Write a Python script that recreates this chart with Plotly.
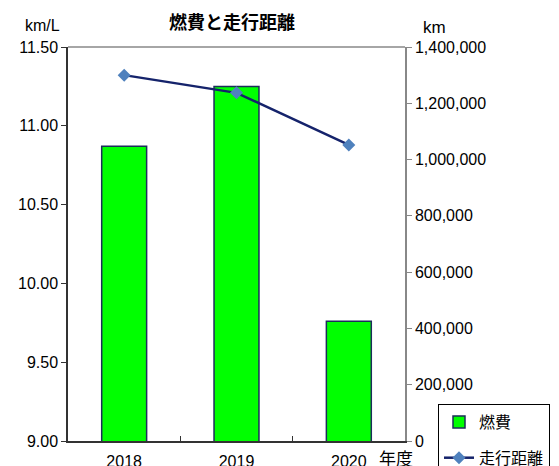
import plotly.graph_objects as go

years = ["2018", "2019", "2020"]
fuel_economy = [10.87, 11.25, 9.76]
distance_km = [1300000, 1237000, 1052000]

JP = "Noto Sans CJK JP"
NUM = "Liberation Sans, Arial"

fig = go.Figure()
fig.add_trace(go.Bar(
    x=years, y=fuel_economy, name="燃費", legendgroup="a",
    marker=dict(color="#00ff00", line=dict(color="#1c2d5a", width=1.5)),
    width=0.4, yaxis="y",
))
fig.add_trace(go.Scatter(
    x=years, y=distance_km, name="走行距離", mode="lines+markers", legendgroup="b",
    line=dict(color="#15236b", width=2.5),
    marker=dict(symbol="diamond", size=10, color="#4f81bd"),
    yaxis="y2",
))

fig.update_layout(
    width=551, height=458,
    margin=dict(l=60, r=154, t=39, b=25, autoexpand=False),
    plot_bgcolor="white", paper_bgcolor="white",
    showlegend=True,
    legend=dict(
        x=(438-68)/337, xanchor="left", y=(441-404)/394, yanchor="top",
        bordercolor="#000000", borderwidth=1,
        font=dict(family=JP, size=16, color="#000"),
        tracegroupgap=12, itemwidth=30,
    ),
    xaxis=dict(
        type="category", showline=True, linecolor="#333333", linewidth=1.5,
        ticks="inside", tickson="boundaries", ticklen=5, tickcolor="#333333",
        tickfont=dict(family=NUM, size=16, color="#000"),
        ticklabelstandoff=5,
    ),
    yaxis=dict(
        range=[9, 11.5], dtick=0.5, tickformat=".2f",
        showline=True, linecolor="#333333", linewidth=1.5,
        ticks="outside", ticklen=5, tickcolor="#333333",
        showgrid=False, zeroline=False,
        tickfont=dict(family=NUM, size=16, color="#000"),
    ),
    yaxis2=dict(
        overlaying="y", side="right",
        range=[0, 1400000], dtick=200000, tickformat=",",
        showline=True, linecolor="#888888", linewidth=1.5,
        ticks="outside", ticklen=5, tickcolor="#888888",
        showgrid=False, zeroline=False,
        tickfont=dict(family=NUM, size=16, color="#000"),
    ),
    shapes=[dict(type="line", xref="paper", yref="paper", x0=0, x1=1, y0=1, y1=1,
                 line=dict(color="#888888", width=1.5))],
    annotations=[
        dict(text="<b>燃費と走行距離</b>", xref="paper", yref="paper", x=(232-68)/337, y=1,
             yshift=26, xanchor="center", yanchor="middle", showarrow=False,
             font=dict(family=JP, size=18, color="#000")),
        dict(text="km/L", xref="paper", yref="paper", x=(42-68)/337, y=1,
             yshift=22, xanchor="center", yanchor="middle", showarrow=False,
             font=dict(family=NUM, size=16, color="#000")),
        dict(text="km", xref="paper", yref="paper", x=(421-68)/337, y=1,
             yshift=20, xanchor="left", yanchor="middle", showarrow=False,
             font=dict(family=NUM, size=17, color="#000")),
        dict(text="年度", xref="paper", yref="paper", x=(396-68)/337, y=0,
             yshift=-16, xanchor="center", yanchor="middle", showarrow=False,
             font=dict(family=JP, size=17, color="#000")),
    ],
)

fig.write_html("out.html")
